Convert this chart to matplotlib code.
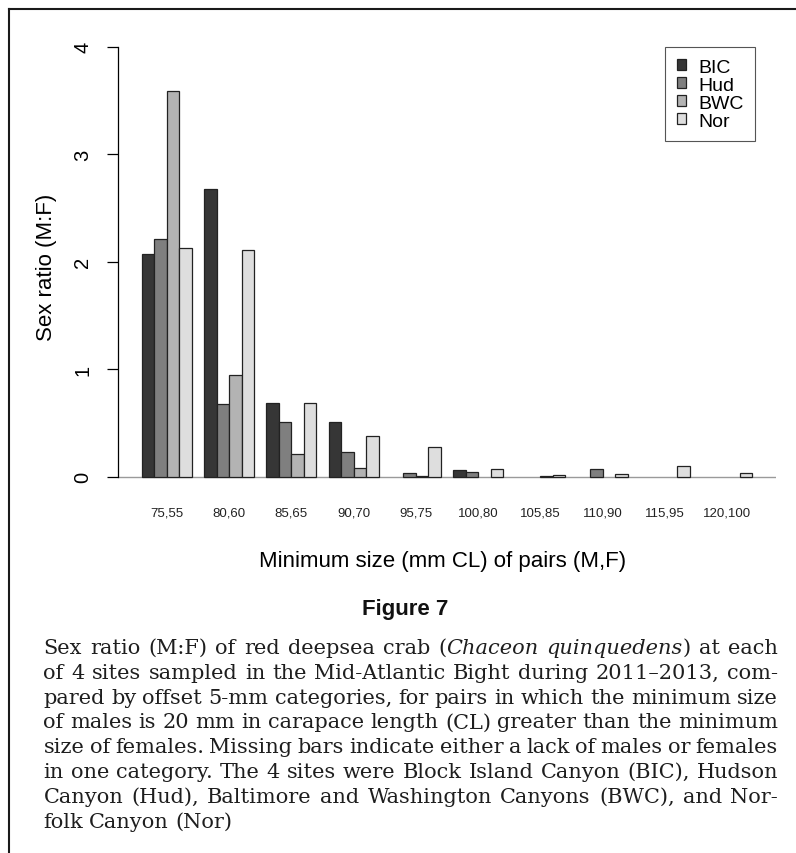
import numpy as np
import matplotlib
matplotlib.use("Agg")
import matplotlib.pyplot as plt
from matplotlib.patches import Patch
from matplotlib.lines import Line2D

plt.rcParams['font.family'] = ['Liberation Sans', 'DejaVu Sans']

# sex ratio (M:F) per size category, one list per site (nan = no bar)
categories = ["75,55", "80,60", "85,65", "90,70", "95,75",
              "100,80", "105,85", "110,90", "115,95", "120,100"]
sites = ["BIC", "Hud", "BWC", "Nor"]
nan = np.nan
bic = [2.07, 2.68, 0.69, 0.51, nan, 0.06, nan, nan, nan, nan]
hud = [2.21, 0.68, 0.51, 0.23, 0.03, 0.04, nan, 0.07, nan, nan]
bwc = [3.59, 0.95, 0.21, 0.085, 0.01, nan, 0.008, nan, nan, nan]
nor = [2.13, 2.11, 0.69, 0.375, 0.28, 0.07, 0.02, 0.025, 0.10, 0.035]
fills = ["#363636", "#7f7f7f", "#b3b3b3", "#dedede"]

caption = [
    "Sex ratio (M:F) of red deepsea crab (*Chaceon* *quinquedens*) at each",
    "of 4 sites sampled in the Mid-Atlantic Bight during 2011\u20132013, com-",
    "pared by offset 5-mm categories, for pairs in which the minimum size",
    "of males is 20 mm in carapace length (CL) greater than the minimum",
    "size of females. Missing bars indicate either a lack of males or females",
    "in one category. The 4 sites were Block Island Canyon (BIC), Hudson",
    "Canyon (Hud), Baltimore and Washington Canyons (BWC), and Nor-",
    "folk Canyon (Nor)",
]

W, H = 796, 854


def fx(x):
    return x / W


def fy(y):
    return 1 - y / H


fig = plt.figure(figsize=(W / 100, H / 100), dpi=100)
ax = fig.add_axes([fx(117.6), fy(494.9), 658.8 / W, 464.4 / H])

# R-style beside barplot: 4 bars per group, one bar-width gap between groups
series = [bic, hud, bwc, nor]
n = len(categories)
starts = 1 + 5 * np.arange(n)
for i, vals in enumerate(series):
    ax.bar(starts + i + 0.5, vals, width=1, color=fills[i],
           edgecolor="#222222", linewidth=0.9, zorder=3)
ax.axhline(0, color="#9a9a9a", lw=1.0, zorder=2)

ax.set_xlim(-0.96, 51.96)
ax.set_ylim(-0.16, 4.16)
for s in ["top", "right", "bottom"]:
    ax.spines[s].set_visible(False)
ax.spines["left"].set_bounds(0, 4)
ax.spines["left"].set_linewidth(0.9)

ax.set_xticks(starts + 2)
ax.set_xticklabels(categories, fontsize=9.5, color="#222222")
ax.tick_params(axis="x", length=0, pad=9)

ax.set_yticks([0, 1, 2, 3, 4])
ax.set_yticklabels(["0", "1", "2", "3", "4"], rotation=90, va="center",
                   ha="center", fontsize=14.5)
ax.tick_params(axis="y", length=8, width=0.9, pad=17)

ax.set_xlabel("Minimum size (mm CL) of pairs (M,F)", fontsize=16)
ax.xaxis.set_label_coords((442.5 - 117.6) / 658.8, (494.9 - 562) / 464.4)
ax.xaxis.label.set_va("center")
ax.set_ylabel("Sex ratio (M:F)", fontsize=16)
ax.yaxis.set_label_coords((47 - 117.6) / 658.8, 0.49)
ax.yaxis.label.set_va("center")

handles = [Patch(facecolor=fills[i], edgecolor="#222222", linewidth=0.9)
           for i in range(4)]
leg = ax.legend(handles, sites, loc="upper right",
                bbox_to_anchor=((755 - 117.6) / 658.8, (494.9 - 48) / 464.4),
                fontsize=14, handlelength=0.5, handleheight=0.5,
                handletextpad=0.6, borderpad=0.6, labelspacing=0.05,
                borderaxespad=0, fancybox=False, framealpha=1)
leg.get_frame().set_edgecolor("#555555")
leg.get_frame().set_linewidth(0.8)

# page frame (top and left rules)
fig.add_artist(Line2D([fx(9), 1], [fy(10), fy(10)], color="#1a1a1a", lw=1.5))
fig.add_artist(Line2D([fx(9), fx(9)], [fy(10), 0], color="#1a1a1a", lw=1.5))

fig.text(fx(405), fy(609), "Figure 7", fontsize=16, fontweight="bold",
         ha="center", va="center", color="#111111")

# justified caption, words placed one by one
renderer = fig.canvas.get_renderer()
left, right = 43.4, 778.0
cap_kw = dict(fontsize=15, family="DejaVu Serif", color="#1e1e1e",
              va="baseline", ha="left")
space_w = 6.0
for li, line in enumerate(caption):
    yb = 654 + 24.8 * li
    words = []
    for word in line.split(" "):
        parts = word.split("*")
        pieces = []
        for k, p in enumerate(parts):
            if p == "":
                continue
            style = "italic" if k % 2 == 1 else "normal"
            t = fig.text(0, fy(yb), p, style=style, **cap_kw)
            w = t.get_window_extent(renderer).width
            pieces.append((t, w))
        words.append(pieces)
    total = sum(w for pcs in words for _, w in pcs)
    if li == len(caption) - 1:
        gap = space_w
    else:
        gap = (right - left - total) / (len(words) - 1)
    x = left
    for pcs in words:
        for t, w in pcs:
            t.set_x(fx(x))
            x += w
        x += gap

fig.savefig("out.png", dpi=100)
